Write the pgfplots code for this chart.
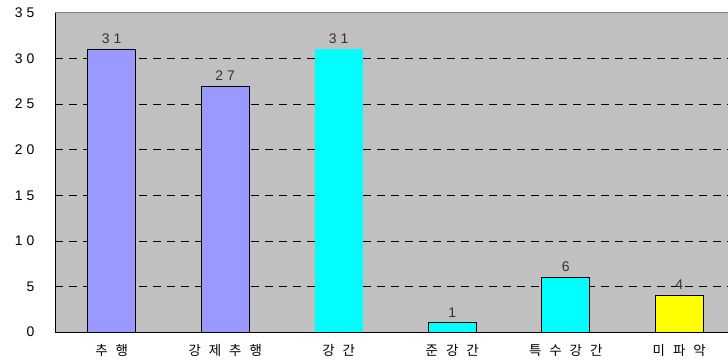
\documentclass[border=0pt]{standalone}
\usepackage{pgfplots}
\pgfplotsset{compat=1.18}
\usepackage{fontspec}
\setmainfont{Liberation Sans}
\newfontfamily\kr{Noto Sans CJK KR}
\definecolor{plotbg}{HTML}{C0C0C0}
\definecolor{lav}{HTML}{9999FF}
\definecolor{cy}{HTML}{00FFFF}
\definecolor{yel}{HTML}{FFFF00}
\definecolor{txt}{HTML}{333333}
\newcommand{\ksp}{\hspace{8bp}}
\newcommand{\ds}{\hspace{4bp}}
\newcommand{\kl}[1]{\fontsize{13.5}{15}\selectfont\kr #1}
\newcommand{\yl}[1]{\fontsize{14}{16}\selectfont #1}
\begin{document}
\begin{tikzpicture}
\useasboundingbox (-55bp,-30bp) rectangle (673bp,332bp);
\clip (-55bp,-30bp) rectangle (673bp,332bp);
\begin{axis}[
  at={(0,0)}, anchor=south west,
  scale only axis, width=681bp, height=319bp,
  xmin=-0.5, xmax=5.5, ymin=0, ymax=35,
  axis x line*=bottom, axis y line*=left,
  axis line style={black, line width=0.8bp, -},
  axis background/.style={fill=plotbg},
  ytick={0,5,...,35},
  yticklabels={\yl{0},\yl{5},\yl{1\ds0},\yl{1\ds5},\yl{2\ds0},\yl{2\ds5},\yl{3\ds0},\yl{3\ds5}},
  yticklabel style={text=black, xshift=-17bp},
  ytick style={draw=none},
  extra y ticks={5,10,...,30},
  extra y tick labels={},
  extra y tick style={ymajorgrids=true, tick style={draw=none}},
  grid style={black, dashed, dash pattern=on 8bp off 6bp, line width=0.6bp},
  xtick={0,...,5},
  xticklabels={{\kl{추\ksp 행}},{\kl{강\ksp 제\ksp 추\ksp 행}},{\kl{강\ksp 간}},{\kl{준\ksp 강\ksp 간}},{\kl{특\ksp 수\ksp 강\ksp 간}},{\kl{미\ksp 파\ksp 악}}},
  xticklabel style={text=black, yshift=-5bp},
  major x tick style={draw=none},
  extra x ticks={0.5,1.5,2.5,3.5,4.5},
  extra x tick labels={},
  extra x tick style={tick style={black, line width=0.8bp}, major tick length=4bp, tick align=inside, grid=none},
  ybar, bar width=48bp, bar shift=0pt,
  nodes near coords, point meta=explicit symbolic,
  every node near coord/.style={text=txt, yshift=2bp},
  clip=false,
]
\addplot[fill=lav, draw=black, line width=0.8bp] coordinates {(0,31) [\yl{3\ds1}] (1,27) [\yl{2\ds7}]};
\addplot[fill=cy, draw=none] coordinates {(2,31) [\yl{3\ds1}]};
\addplot[fill=cy, draw=black, line width=0.8bp] coordinates {(3,1) [\yl{1}] (4,6) [\yl{6}]};
\addplot[fill=yel, draw=black, line width=0.8bp] coordinates {(5,4) [\yl{4}]};
\draw[gray, line width=1bp] (rel axis cs:0,1) -- (rel axis cs:1,1);
\end{axis}
\end{tikzpicture}
\end{document}
